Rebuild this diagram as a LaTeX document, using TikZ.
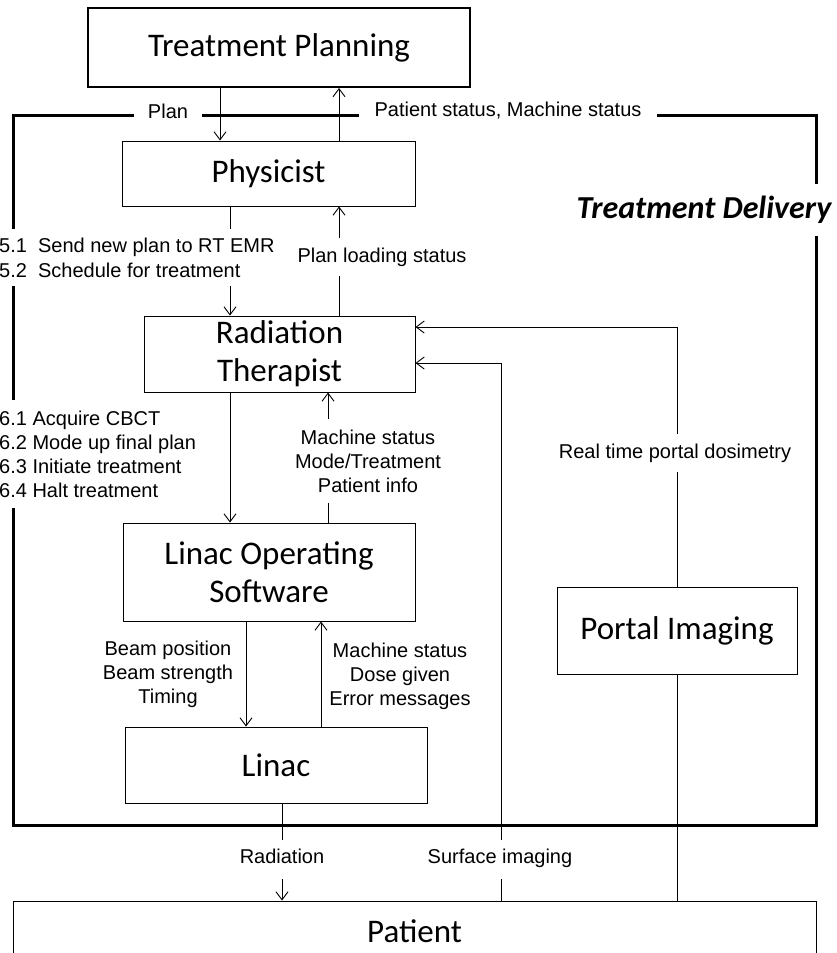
\documentclass[tikz,border=0pt]{standalone}
\usepackage{fontspec}
\setmainfont{Liberation Sans}
\newfontfamily\boxfont{Carlito}
\usetikzlibrary{arrows.meta,calc}
\begin{document}
\begin{tikzpicture}[x=1pt,y=-1pt,
  box/.style={draw, fill=white, line width=1pt, inner sep=0pt, align=center,
    font=\boxfont\fontsize{33}{38}\selectfont},
  lbl/.style={fill=white, inner sep=0pt, align=center, font=\fontsize{20}{24}\selectfont},
  lblL/.style={lbl, align=left, anchor=west},
  conn/.style={line width=0.9pt, -{Straight Barb[length=8pt,width=12pt]}},
  plain/.style={line width=0.9pt},
  frameline/.style={line width=3pt}]
\useasboundingbox (0,0) rectangle (836,953);
\clip (0,0) rectangle (836,953);
% boxes
\node[box, line width=2pt, minimum width=382pt, minimum height=79pt] (tp) at (279,47.5) {Treatment Planning};
\node[box, minimum width=293pt, minimum height=65pt] (phy) at (268.5,173.5) {Physicist};
\node[box, minimum width=271pt, minimum height=76pt] (rt) at (279.5,354) {Radiation\\Therapist};
\node[box, minimum width=292pt, minimum height=98pt] (los) at (269,572) {Linac Operating\\Software};
\node[box, minimum width=302pt, minimum height=76pt] (lin) at (276,765) {Linac};
\node[box, minimum width=240pt, minimum height=87pt] (pi) at (677,630.5) {Portal Imaging};
\node[box, minimum width=803pt, minimum height=60pt] (pat) at (414.5,931) {Patient};
% treatment delivery frame
\draw[frameline] (13,115) rectangle (816,825);
% connectors
\draw[conn] (220,0 |- tp.south) -- (220,0 |- phy.north);
\draw[conn] (339,0 |- phy.north) -- (339,0 |- tp.south);
\draw[conn] (230,0 |- phy.south) -- (230,0 |- rt.north);
\draw[conn] (339,0 |- rt.north) -- (339,0 |- phy.south);
\draw[conn] (230,0 |- rt.south) -- (230,0 |- los.north);
\draw[conn] (328,0 |- los.north) -- (328,0 |- rt.south);
\draw[conn] (246,0 |- los.south) -- (246,0 |- lin.north);
\draw[conn] (321,0 |- lin.north) -- (321,0 |- los.south);
\draw[conn] (282,0 |- lin.south) -- (282,0 |- pat.north);
\draw[conn] (501,0 |- pat.north) |- (rt.east |- 0,363);
\draw[conn] (pi.north) |- (rt.east |- 0,327);
\draw[plain] (pi.south) -- (pi.south |- pat.north);
% labels
\node[lbl, inner xsep=14pt, inner ysep=4pt] (lplan) at (168,111) {Plan};
\node[lbl, inner xsep=16pt, inner ysep=4pt] (lstat) at (508,111) {Patient status, Machine status};
\node[lbl, inner xsep=2pt, inner ysep=12pt, font=\boxfont\bfseries\itshape\fontsize{32}{36}\selectfont] (ltd) at (704,210) {Treatment Delivery};
\node[lblL, inner xsep=2pt, inner ysep=9pt, font=\fontsize{20}{25}\selectfont] (l5) at (-3,257.5) {5.1~~Send new plan to RT EMR\\5.2~~Schedule for treatment};
\node[lbl, inner xsep=3pt, inner ysep=10pt] (lpls) at (382,257) {Plan loading status};
\node[lblL, inner xsep=2pt, inner ysep=11pt] (l6) at (-3,454) {6.1 Acquire CBCT\\6.2 Mode up final plan\\6.3 Initiate treatment\\6.4 Halt treatment};
\node[lbl, inner xsep=3pt, inner ysep=11pt] (lms) at (368,461) {Machine status\\Mode/Treatment\\Patient info};
\node[lbl, inner xsep=3pt, inner ysep=10pt] (lrt) at (675,453) {Real time portal dosimetry};
\node[lbl] (lbeam) at (168,674) {Beam position\\Beam strength\\Timing};
\node[lbl] (lmach) at (400,676) {Machine status\\Dose given\\Error messages};
\node[lbl, inner xsep=3pt, inner ysep=10pt, text height=14pt, text depth=5pt] (lrad) at (282,859) {Radiation};
\node[lbl, inner xsep=3pt, inner ysep=10pt, text height=14pt, text depth=5pt] (lsurf) at (500,859) {Surface imaging};
\end{tikzpicture}
\end{document}
